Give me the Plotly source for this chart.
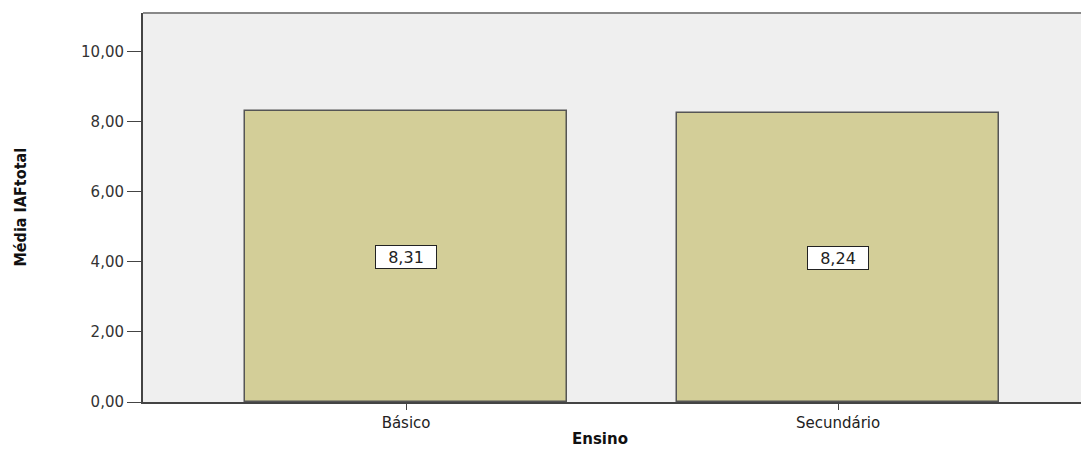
import plotly.graph_objects as go

categories = ["Básico", "Secundário"]
values = [8.31, 8.24]
value_labels = ["8,31", "8,24"]
y_ticks = [0, 2, 4, 6, 8, 10]
y_tick_labels = ["0,00", "2,00", "4,00", "6,00", "8,00", "10,00"]

# page body has an 8px margin; figure sized so plot spans x 143..1089, y 13..402
W, H = 1081, 441
ML, MT, MB = 135, 5, 47
plot_w = W - ML

fig = go.Figure()
fig.add_trace(go.Bar(
    x=[0, 1], y=values, width=0.745,
    marker=dict(color="#d3ce98", line=dict(color="#555555", width=1.5)),
    hoverinfo="skip", showlegend=False,
))

annotations = []
for i, (v, lab) in enumerate(zip(values, value_labels)):
    annotations.append(dict(x=i, y=v / 2, text=lab, showarrow=False,
                            font=dict(family="DejaVu Sans, Arial", size=16, color="#222"),
                            width=58, height=20,
                            bgcolor="white", bordercolor="#222", borderwidth=1, borderpad=1))

annotations += [
    dict(text="<b>Ensino</b>", xref="paper", yref="paper", x=(600 - 143) / plot_w, y=0,
         yanchor="middle", yshift=-37, showarrow=False,
         font=dict(family="DejaVu Sans, Arial", size=15, color="#111")),
    dict(text="<b>Média IAFtotal</b>", xref="paper", yref="paper", x=0, xanchor="center",
         xshift=-123, y=0.5, textangle=-90, showarrow=False,
         font=dict(family="DejaVu Sans Condensed, Liberation Sans Narrow, Arial Narrow", size=16,
                   color="#111")),
]

fig.add_shape(type="line", xref="paper", yref="paper", x0=0, x1=1, y0=1, y1=1,
              line=dict(color="#888888", width=2))

fig.update_layout(
    width=W, height=H,
    margin=dict(l=ML, r=0, t=MT, b=MB),
    paper_bgcolor="white", plot_bgcolor="#efefef",
    bargap=0,
    xaxis=dict(
        range=[-0.609, 1.581], tickvals=[0, 1], ticktext=categories,
        showgrid=False, zeroline=False, showline=True, linecolor="#444", linewidth=2,
        ticks="outside", ticklen=6, tickcolor="#444",
        tickfont=dict(family="DejaVu Sans, Arial", size=15, color="#222"),
    ),
    yaxis=dict(
        range=[0, 11.11], tickvals=y_ticks, ticktext=y_tick_labels,
        showgrid=False, zeroline=False, showline=True, linecolor="#444", linewidth=2,
        ticks="outside", ticklen=14, tickcolor="#444",
        tickfont=dict(family="DejaVu Sans, Arial", size=15, color="#333"),
    ),
    annotations=annotations,
)

fig.write_html("out.html")
